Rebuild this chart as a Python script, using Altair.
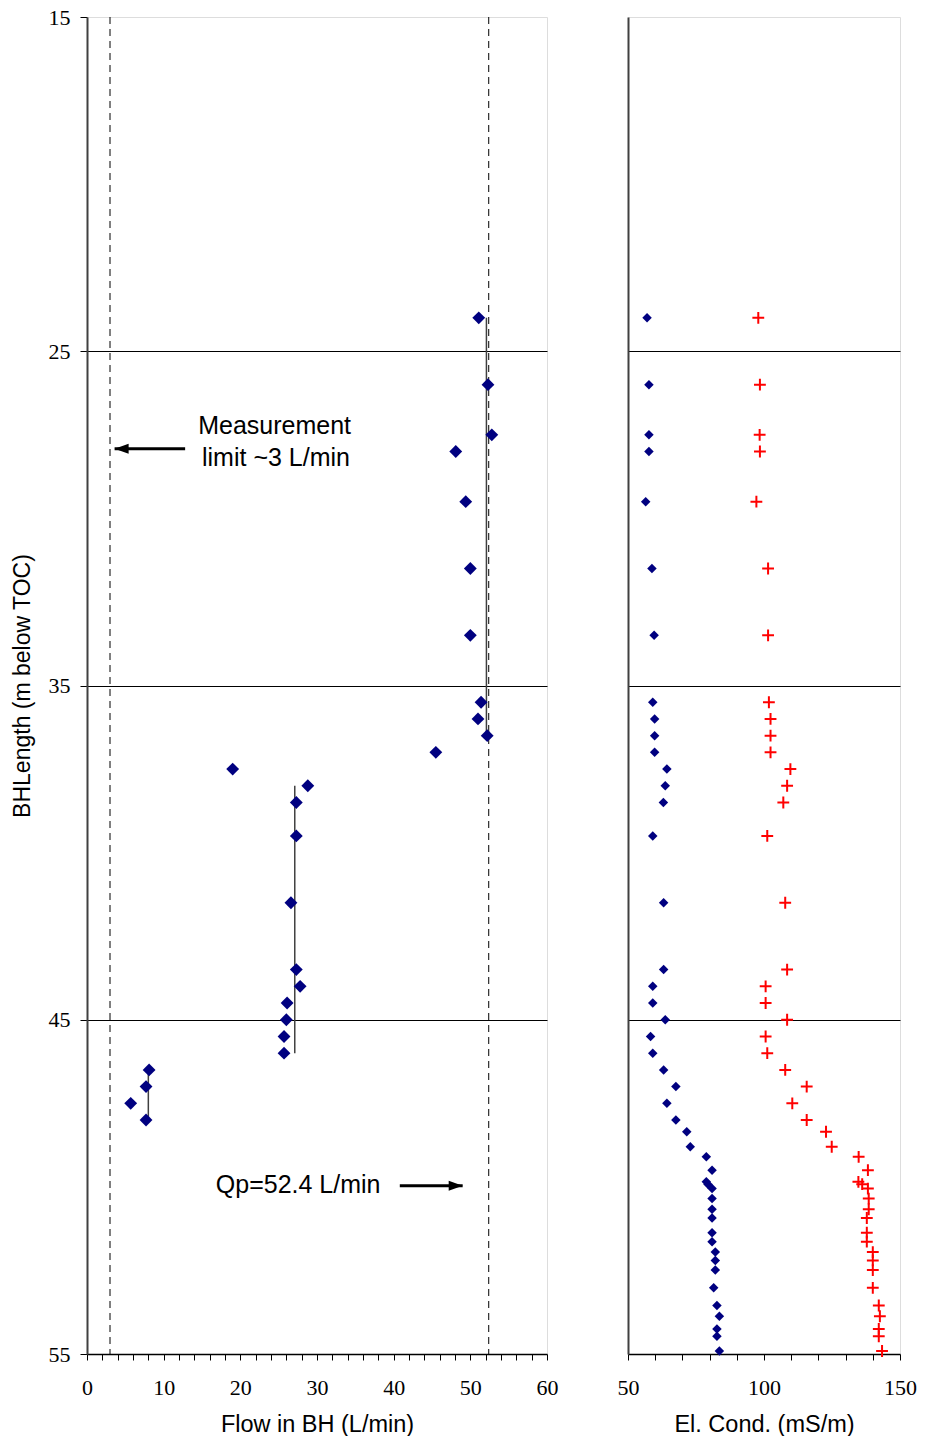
import altair as alt
import pandas as pd

# ---------------- data ----------------
flow_depth = [24.0, 26.0, 27.5, 28.0, 29.5, 31.5, 33.5, 35.5, 36.0, 36.5, 37.0,
              37.5, 38.0, 38.5, 39.5, 41.5, 43.5, 44.0, 44.5, 45.0, 45.5, 46.0,
              46.5, 47.0, 47.5, 48.0]
flow_value = [51.1, 52.3, 52.8, 48.1, 49.4, 50.0, 50.0, 51.4, 51.0, 52.2, 45.5,
              19.0, 28.8, 27.3, 27.3, 26.6, 27.3, 27.8, 26.1, 26.0, 25.7, 25.7,
              8.1, 7.7, 5.7, 7.7]

ec_depth = [24.0, 26.0, 27.5, 28.0, 29.5, 31.5, 33.5, 35.5, 36.0, 36.5, 37.0,
            37.5, 38.0, 38.5, 39.5, 41.5, 43.5, 44.0, 44.5, 45.0, 45.5, 46.0,
            46.5, 47.0, 47.5, 48.0, 48.35, 48.8, 49.1, 49.5, 49.85, 49.92, 50.05,
            50.35, 50.67, 50.93, 51.37, 51.64, 51.95, 52.2, 52.49, 53.02, 53.55,
            53.87, 54.25, 54.47, 54.91]
ec_blue = [57.0, 57.7, 57.7, 57.7, 56.5, 58.8, 59.6, 59.1, 59.8, 59.8, 59.8,
           64.3, 63.7, 63.0, 59.1, 63.1, 63.1, 59.1, 59.1, 63.7, 58.3, 59.1,
           63.1, 67.6, 64.3, 67.6, 71.6, 72.9, 78.8, 80.9, 78.8, 79.4, 80.9,
           80.9, 80.9, 80.9, 80.9, 80.9, 82.1, 82.1, 82.1, 81.5, 82.7,
           83.6, 82.7, 82.7, 83.6]
ec_red = [97.9, 98.5, 98.4, 98.5, 97.2, 101.5, 101.5, 101.8, 102.4, 102.4, 102.4,
          109.7, 108.5, 107.1, 101.2, 107.8, 108.5, 100.6, 100.6, 108.5, 100.6, 101.2,
          107.8, 115.7, 110.4, 115.7, 122.8, 124.9, 134.8, 138.2, 134.7, 136.1, 138.2,
          138.5, 138.5, 137.8, 137.8, 137.8, 140.0, 140.0, 140.0, 140.0, 142.2,
          142.6, 142.2, 142.2, 143.4]

# reference lines
dash_x = [3.0, 52.4]
seg_x = [52.1, 27.1, 8.0]
seg_top = [24.0, 38.0, 46.5]
seg_bot = [36.5, 46.0, 48.0]

# annotations
note_text = ["Measurement", "limit ~3 L/min", "Qp=52.4 L/min"]
note_x = [14.5, 15.0, 16.8]
note_y = [27.24, 28.19, 49.93]
arrow_from = [12.8, 40.8]
arrow_to = [3.6, 49.0]
arrow_y = [27.92, 49.97]
arrow_head = ["M0,0L1.4,-0.5L1.4,0.5Z", "M0,0L-1.4,-0.5L-1.4,0.5Z"]

y_ticks = [15, 25, 35, 45, 55]
flow_ticks = list(range(0, 62, 2))
ec_ticks = list(range(50, 160, 10))

SANS = "Liberation Sans"
SERIF = "Liberation Serif, Times New Roman, Times, serif"
NAVY = "#000080"
RED = "#FF0000"

flow_df = pd.DataFrame({"depth": flow_depth, "flow": flow_value})
ec_df = pd.DataFrame({"depth": ec_depth, "blue": ec_blue, "red": ec_red})
dash_df = pd.DataFrame({"x": dash_x, "y": [15] * len(dash_x), "y2": [55] * len(dash_x)})
seg_df = pd.DataFrame({"x": seg_x, "y": seg_top, "y2": seg_bot})
note_df = pd.DataFrame({"x": note_x, "y": note_y, "t": note_text})
arrow_df = pd.DataFrame({"x": arrow_from, "x2": arrow_to, "y": arrow_y, "head": arrow_head})

grid_color = {"condition": {"test": "datum.value == 15 || datum.value == 55",
                            "value": "transparent"}, "value": "#000000"}

yscale = alt.Scale(domain=[15, 55], reverse=True, nice=False, zero=False)
xflow = alt.Scale(domain=[0, 60], nice=False, zero=False)
xec = alt.Scale(domain=[50, 150], nice=False, zero=False)

common = dict(labelFont=SERIF, labelFontSize=22, labelColor="#000000",
              labelFlush=False, labelOverlap=False,
              titleFont=SANS, titleFontWeight="normal", titleColor="#000000")

y_axis_left = alt.Axis(values=y_ticks, tickCount=5, title="BHLength (m below TOC)",
                       grid=True, gridColor=grid_color, gridWidth=1,
                       tickSize=7, tickColor="#000000", labelPadding=10,
                       titleFontSize=23, titlePadding=14,
                       domainColor="#404040", domainWidth=2, **common)
y_axis_right = alt.Axis(values=y_ticks, tickCount=5, title=None, grid=True,
                        gridColor=grid_color, gridWidth=1, labels=False, ticks=False,
                        domainColor="#404040", domainWidth=2)

x_axis_flow = alt.Axis(values=flow_ticks, tickCount=31, title="Flow in BH (L/min)",
                       labelExpr="datum.value % 10 === 0 ? datum.label : ''",
                       grid=False, tickSize=6, tickColor="#000000", labelPadding=17,
                       titleFontSize=23.5, titlePadding=14,
                       domainColor="#000000", domainWidth=1.5, **common)
x_axis_ec = alt.Axis(values=ec_ticks, tickCount=11, title="El. Cond. (mS/m)",
                     labelExpr="datum.value % 50 === 0 ? datum.label : ''",
                     grid=False, tickSize=6, tickColor="#000000", labelPadding=17,
                     titleFontSize=23.5, titlePadding=14,
                     domainColor="#000000", domainWidth=1.5, **common)


def fx(field):
    return alt.X(field, scale=xflow, axis=x_axis_flow)


def fy(field):
    return alt.Y(field, scale=yscale, axis=y_axis_left)


# ---------------- left panel ----------------
dash_rules = alt.Chart(dash_df).mark_rule(color="#000000", strokeDash=[7, 5],
                                          strokeWidth=1).encode(
    x=fx("x:Q"), y=fy("y:Q"), y2="y2:Q")
seg_rules = alt.Chart(seg_df).mark_rule(color="#404040", strokeWidth=1.5).encode(
    x=fx("x:Q"), y=fy("y:Q"), y2="y2:Q")
base_pts = alt.Chart(flow_df).mark_point(shape="diamond", filled=True, color=NAVY,
                                         size=165, opacity=1).encode(
    x=fx("flow:Q"), y=fy("depth:Q"))
notes = alt.Chart(note_df).mark_text(align="left", baseline="middle", font=SANS,
                                     fontSize=25, color="#000000").encode(
    x=fx("x:Q"), y=fy("y:Q"), text="t:N")
arrow_lines = alt.Chart(arrow_df).mark_rule(color="#000000", strokeWidth=3).encode(
    x=fx("x:Q"), x2="x2:Q", y=fy("y:Q"))
arrow_heads = alt.Chart(arrow_df).mark_point(filled=True, color="#000000", opacity=1,
                                             size=400, strokeWidth=0).encode(
    x=fx("x2:Q"), y=fy("y:Q"),
    shape=alt.Shape("head:N", scale=None))

left = alt.layer(dash_rules, seg_rules, base_pts, notes, arrow_lines, arrow_heads).properties(
    width=460, height=1337)

# ---------------- right panel ----------------
blue_pts = alt.Chart(ec_df).mark_point(shape="diamond", filled=True, color=NAVY,
                                       size=90, opacity=1).encode(
    x=alt.X("blue:Q", scale=xec, axis=x_axis_ec),
    y=alt.Y("depth:Q", scale=yscale, axis=y_axis_right),
)
red_pts = alt.Chart(ec_df).mark_point(shape="M-1,0L1,0M0,-1L0,1", filled=False,
                                      color=RED, size=140, strokeWidth=2,
                                      opacity=1).encode(
    x=alt.X("red:Q", scale=xec, axis=x_axis_ec),
    y=alt.Y("depth:Q", scale=yscale, axis=y_axis_right),
)
right = alt.layer(blue_pts, red_pts).properties(width=272, height=1337)

chart = alt.hconcat(left, right, spacing=57).properties(
    padding={"left": 2, "top": -3, "right": 0, "bottom": 0}
).configure_view(stroke="#8c8c8c", strokeWidth=2).configure_axis(
    labelFont=SERIF, titleFont=SANS
).configure(background="white")

chart.save("out.html", embed_options={"renderer": "svg", "actions": False})
